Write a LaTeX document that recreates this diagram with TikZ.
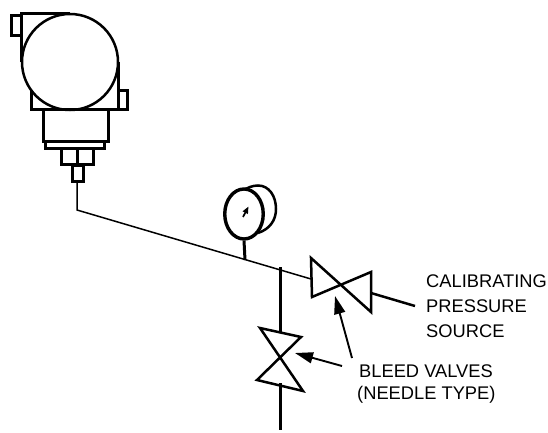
\documentclass[tikz,border=0pt]{standalone}
\usepackage{fontspec}
\setmainfont{Liberation Sans}
\usetikzlibrary{arrows.meta,shapes.geometric}
\tikzset{
  heavy/.style={draw=black,line width=3pt,line join=miter},
  medium/.style={draw=black,line width=2.5pt,line join=miter},
  thinline/.style={draw=black,line width=1.5pt,line join=miter},
  callout/.style={draw=black,line width=1.9pt,-{Triangle[length=18pt,width=11pt]}},
  lab/.style={inner sep=0pt,font=\fontsize{18.3}{18.3}\selectfont,anchor=base west}
}
\begin{document}
\begin{tikzpicture}[x=1pt,y=-1pt]
\useasboundingbox (0,0) rectangle (548,433);
% transmitter
\draw[heavy] (70,14) -- (21,14) -- (21,62);
\draw[heavy] (11,16) rectangle (21,36);
\draw[heavy] (31,91) -- (31,110) -- (118,110) -- (118,62);
\draw[heavy] (118,91) rectangle (127,110);
\draw[medium] (70,62) circle [radius=48];
\draw[heavy] (43,110) rectangle (108,141);
\draw[heavy] (45,141) rectangle (104,148.5);
\draw[heavy] (61,148.5) rectangle (93,164);
\draw[heavy] (77,148.5) -- (77,164);
\draw[heavy] (72,165) rectangle (83,181);
% pipe
\coordinate (pipeTop) at (77,181);
\coordinate (pipeBend) at (77,210);
\coordinate (pipeEnd) at (311,279);
\draw[thinline] (pipeTop) -- (pipeBend) -- (pipeEnd);
% gauge
\draw[medium] (243,190) -- (250,187) .. controls (253,186) and (255,185.5) .. (258,185.5)
  .. controls (269,185.5) and (276,196) .. (276,209)
  .. controls (276,220) and (270,229) .. (258,233);
\node[draw=black,line width=3.4pt,fill=white,ellipse,minimum width=38.5pt,minimum height=50pt,inner sep=0pt] (gauge) at (244,214) {};
\coordinate (stemFoot) at (245,260);
\draw[heavy] (gauge.south) -- (stemFoot);
\coordinate (needleA) at (243,217);
\coordinate (needleB) at (248.5,206.5);
\draw[draw=black,line width=1.7pt,-{Triangle[length=7pt,width=5.5pt]}] (needleA) -- (needleB);
% vertical line and valve
\coordinate (ventTop) at (280,267);
\coordinate (ventIn) at (280,333);
\coordinate (ventOut) at (280,383);
\coordinate (ventEnd) at (280,430);
\draw[heavy] (ventTop) -- (ventIn);
\draw[heavy] (ventOut) -- (ventEnd);
\draw[medium] (260,328) -- (301,337) -- (257,380) -- (303,391) -- cycle;
% horizontal valve
\draw[medium] (311,258) -- (371,312) -- (371,272) -- (312,297) -- cycle;
\coordinate (srcA) at (371,293);
\coordinate (srcB) at (415,306);
\draw[medium] (srcA) -- (srcB);
% labels
\node[lab] (cal1) at (426,287) {CALIBRATING};
\node[lab] (cal2) at (426,312) {PRESSURE};
\node[lab] (cal3) at (426,337) {SOURCE};
\node[lab] (bleed) at (359,377) {BLEED VALVES};
\node[lab] (needle) at (357,399) {(NEEDLE TYPE)};
% callouts
\coordinate (tipA) at (335,296);
\coordinate (tipB) at (295,353);
\draw[callout] (352,358) -- (tipA);
\draw[callout] (342,366) -- (tipB);
\end{tikzpicture}
\end{document}
